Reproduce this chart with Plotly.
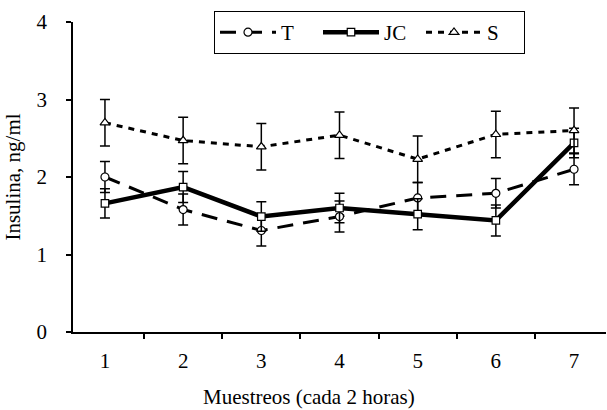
import plotly.graph_objects as go

categories = ["1", "2", "3", "4", "5", "6", "7"]
T_vals = [2.00, 1.58, 1.31, 1.49, 1.73, 1.79, 2.10]
T_err = [0.20, 0.20, 0.20, 0.20, 0.20, 0.19, 0.20]
JC_vals = [1.66, 1.87, 1.49, 1.60, 1.52, 1.44, 2.44]
JC_err = [0.19, 0.20, 0.19, 0.19, 0.20, 0.20, 0.19]
S_vals = [2.70, 2.47, 2.39, 2.54, 2.23, 2.55, 2.60]
S_err = [0.30, 0.30, 0.30, 0.30, 0.30, 0.30, 0.29]
y_ticks = [0, 1, 2, 3, 4]
x_title = "Muestreos (cada 2 horas)"
y_title = "Insulina, ng/ml"

FONT = "Liberation Serif"

def err(arr):
    return dict(type="data", array=arr, visible=True, color="black", thickness=1.5, width=5)

fig = go.Figure()
fig.add_trace(go.Scatter(
    x=categories, y=T_vals, name="T", mode="lines+markers",
    line=dict(color="black", width=3, dash="16px,10px"),
    marker=dict(symbol="circle", size=8, color="white", line=dict(color="black", width=1.2)),
    error_y=err(T_err)))
fig.add_trace(go.Scatter(
    x=categories, y=JC_vals, name="JC", mode="lines+markers",
    line=dict(color="black", width=4.5),
    marker=dict(symbol="square", size=7.5, color="white", line=dict(color="black", width=1.2)),
    error_y=err(JC_err)))
fig.add_trace(go.Scatter(
    x=categories, y=S_vals, name="S", mode="lines+markers",
    line=dict(color="black", width=3, dash="6px,6px"),
    marker=dict(symbol="triangle-up", size=8.5, color="white", line=dict(color="black", width=1.2)),
    error_y=err(S_err)))

fig.update_layout(
    width=607, height=410,
    margin=dict(l=73, r=1, t=22, b=78, autoexpand=False),
    paper_bgcolor="white", plot_bgcolor="white",
    font=dict(family=FONT, color="black", size=21),
    showlegend=True,
    legend=dict(
        orientation="h", xref="container", yref="container",
        x=214 / 607, xanchor="left", y=1 - 11 / 410, yanchor="top",
        bordercolor="black", borderwidth=1, bgcolor="white",
        font=dict(family=FONT, size=21, color="black"),
        itemwidth=56, entrywidth=32, tracegroupgap=0,
    ),
    xaxis=dict(
        type="category", tickson="boundaries", ticks="outside", ticklen=5,
        tickcolor="black", tickwidth=1.5,
        showline=True, linecolor="black", linewidth=1.5,
        showgrid=False, zeroline=False,
        tickfont=dict(family=FONT, size=21),
        ticklabelstandoff=9,
    ),
    yaxis=dict(
        range=[0, 4], tickvals=y_ticks, ticks="outside", ticklen=5,
        tickcolor="black", tickwidth=1.5,
        showline=True, linecolor="black", linewidth=1.5,
        showgrid=False, zeroline=False,
        tickfont=dict(family=FONT, size=21),
        ticklabelstandoff=15,
        title=dict(text=y_title, font=dict(family=FONT, size=21), standoff=10),
    ),
    annotations=[dict(
        text=x_title, xref="paper", yref="paper", x=0.4437, y=-0.211,
        xanchor="center", yanchor="middle", showarrow=False,
        font=dict(family=FONT, size=21, color="black"),
    )],
)

fig.write_html("out.html", config={"displayModeBar": False},
               post_script="document.body.style.margin='0px';")
